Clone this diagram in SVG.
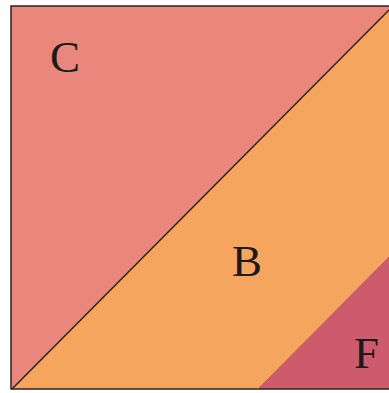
<svg xmlns="http://www.w3.org/2000/svg" width="389" height="393" viewBox="0 0 389 393">
<style>
.lbl{font-family:"Liberation Serif","Times New Roman",serif;font-size:45px;fill:#1e1a1a}
.edge{stroke:#2a2222;stroke-width:1.5;fill:none}
</style>
<rect width="389" height="393" fill="#ffffff"/>
<g id="regionC"><polygon points="11,6 389,6 389,10 12,389 11,389" fill="#EA877C"/></g>
<g id="regionB"><polygon points="389,10 389,257 258,389 12,389" fill="#F5A55E"/></g>
<g id="regionF"><polygon points="389,257 389,389 258,389" fill="#CD5B6B"/></g>
<g id="connectors">
<path class="edge" d="M389,6 H11 V389 H389"/>
<path class="edge" d="M12,389 L389,10"/>
<path d="M258,389 L389,257" stroke="#b0505a" stroke-width="0.8" fill="none"/>
</g>
<text class="lbl" x="50" y="72">C</text>
<text class="lbl" x="232" y="276">B</text>
<text class="lbl" x="354" y="368">F</text>
</svg>
